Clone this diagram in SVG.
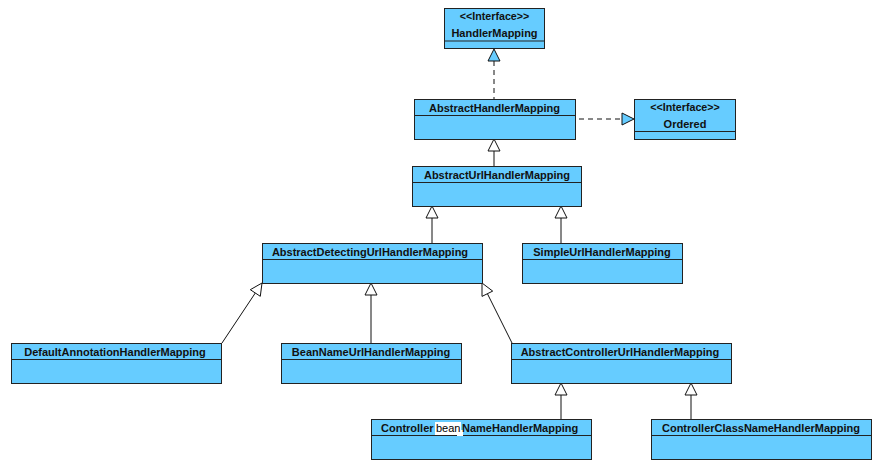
<svg xmlns="http://www.w3.org/2000/svg" width="873" height="464" viewBox="0 0 873 464">
<style>
.box{fill:#66CCFF;stroke:#222;stroke-width:1}
.sep{stroke:#222;stroke-width:1}
.t{font-family:"Liberation Sans",Arial,sans-serif;font-weight:bold;font-size:11px;fill:#111;text-anchor:middle}
.ts{font-family:"Liberation Sans",Arial,sans-serif;font-weight:bold;font-size:11px;fill:#111}
.st{font-family:"Liberation Sans",Arial,sans-serif;font-weight:bold;font-size:10.7px;fill:#111;text-anchor:middle}
.ln{stroke:#111;stroke-width:1;fill:none}
.dash{stroke:#111;stroke-width:1;fill:none;stroke-dasharray:5,4}
.gen{fill:#fff;stroke:#111;stroke-width:1}
.real{fill:#66CCFF;stroke:#111;stroke-width:1}
</style>
<rect width="873" height="464" fill="#fff"/>
<g id="connectors">
<line class="dash" x1="494" y1="61" x2="494" y2="99"/>
<polygon class="real" points="494,49 488,61 500,61"/>
<line class="dash" x1="579" y1="119" x2="622" y2="119"/>
<polygon class="real" points="634,119 622,113 622,125"/>
<line class="ln" x1="494" y1="151" x2="494" y2="166"/>
<polygon class="gen" points="494,139 488,151 500,151"/>
<line class="ln" x1="432" y1="218" x2="432" y2="243"/>
<polygon class="gen" points="432,206 426,218 438,218"/>
<line class="ln" x1="561" y1="218" x2="561" y2="243"/>
<polygon class="gen" points="561,206 555,218 567,218"/>
<line class="ln" x1="222" y1="343" x2="255.3" y2="293"/>
<polygon class="gen" points="262,283 260.3,296.3 250.3,289.7"/>
<line class="ln" x1="371" y1="295" x2="371" y2="343"/>
<polygon class="gen" points="371,283 365,295 377,295"/>
<line class="ln" x1="512" y1="343" x2="487.4" y2="293.7"/>
<polygon class="gen" points="482,283 492.7,291.1 482,296.4"/>
<line class="ln" x1="561" y1="395" x2="561" y2="419"/>
<polygon class="gen" points="561,383 555,395 567,395"/>
<line class="ln" x1="691" y1="395" x2="691" y2="419"/>
<polygon class="gen" points="691,383 685,395 697,395"/>
</g>
<g id="HandlerMapping">
<rect class="box" x="444.5" y="8.5" width="100" height="40"/>
<line class="sep" x1="444.5" y1="41" x2="544.5" y2="41"/>
<text class="st" x="494.5" y="20">&lt;&lt;Interface&gt;&gt;</text>
<text class="t" x="494.5" y="37">HandlerMapping</text>
</g>
<g id="AbstractHandlerMapping">
<rect class="box" x="414.5" y="99.5" width="161" height="40"/>
<line class="sep" x1="414.5" y1="115.5" x2="575.5" y2="115.5"/>
<text class="t" x="494.5" y="111.5">AbstractHandlerMapping</text>
</g>
<g id="Ordered">
<rect class="box" x="634.5" y="99.5" width="101" height="40"/>
<line class="sep" x1="634.5" y1="131.5" x2="735.5" y2="131.5"/>
<text class="st" x="685" y="111">&lt;&lt;Interface&gt;&gt;</text>
<text class="t" x="685" y="127.5">Ordered</text>
</g>
<g id="AbstractUrlHandlerMapping">
<rect class="box" x="412.5" y="166.5" width="169" height="40"/>
<line class="sep" x1="412.5" y1="182.5" x2="581.5" y2="182.5"/>
<text class="t" x="497" y="178.5">AbstractUrlHandlerMapping</text>
</g>
<g id="AbstractDetectingUrlHandlerMapping">
<rect class="box" x="262.5" y="243.5" width="220" height="40"/>
<line class="sep" x1="262.5" y1="259.5" x2="482.5" y2="259.5"/>
<text class="t" x="370" y="255.5">AbstractDetectingUrlHandlerMapping</text>
</g>
<g id="SimpleUrlHandlerMapping">
<rect class="box" x="522.5" y="243.5" width="160" height="40"/>
<line class="sep" x1="522.5" y1="259.5" x2="682.5" y2="259.5"/>
<text class="t" x="602" y="255.5">SimpleUrlHandlerMapping</text>
</g>
<g id="DefaultAnnotationHandlerMapping">
<rect class="box" x="11.5" y="343.5" width="210" height="40"/>
<line class="sep" x1="11.5" y1="359.5" x2="221.5" y2="359.5"/>
<text class="t" x="115" y="355.5">DefaultAnnotationHandlerMapping</text>
</g>
<g id="BeanNameUrlHandlerMapping">
<rect class="box" x="281.5" y="343.5" width="180" height="40"/>
<line class="sep" x1="281.5" y1="359.5" x2="461.5" y2="359.5"/>
<text class="t" x="371" y="355.5">BeanNameUrlHandlerMapping</text>
</g>
<g id="AbstractControllerUrlHandlerMapping">
<rect class="box" x="511.5" y="343.5" width="220" height="40"/>
<line class="sep" x1="511.5" y1="359.5" x2="731.5" y2="359.5"/>
<text class="t" x="620" y="355.5">AbstractControllerUrlHandlerMapping</text>
</g>
<g id="ControllerBeanNameHandlerMapping">
<rect class="box" x="371.5" y="419.5" width="220" height="40"/>
<line class="sep" x1="371.5" y1="435.5" x2="591.5" y2="435.5"/>
<text class="ts" x="381" y="431.5">Controller</text>
<rect x="435" y="422" width="26" height="13" fill="#fff"/>
<rect x="457" y="430" width="6" height="6" fill="#fff"/>
<text x="436" y="432" font-family="'Liberation Sans',Arial,sans-serif" font-size="11px" fill="#000">bean</text>
<text class="ts" x="462" y="431.5">NameHandlerMapping</text>
</g>
<g id="ControllerClassNameHandlerMapping">
<rect class="box" x="651.5" y="419.5" width="220" height="40"/>
<line class="sep" x1="651.5" y1="435.5" x2="871.5" y2="435.5"/>
<text class="ts" x="761" y="431.5" text-anchor="middle">ControllerClassNameHandlerMapping</text>
</g>
</svg>
